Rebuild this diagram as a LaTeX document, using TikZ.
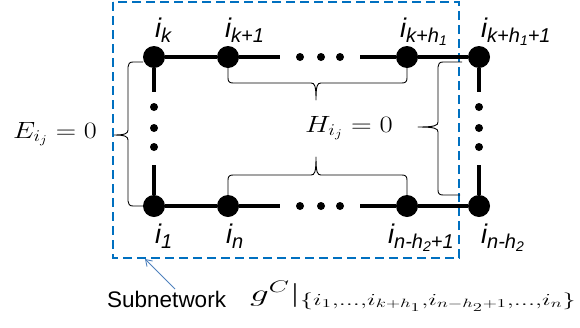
\RequirePackage{fix-cm}
\documentclass[tikz,border=0pt]{standalone}
\usepackage{fontspec}
\usepackage{amsmath}
\usepackage{graphicx}
\newfontfamily\labfont{Liberation Sans}
\usetikzlibrary{arrows.meta}
\definecolor{dashblue}{HTML}{0070C0}
\definecolor{arrblue}{HTML}{4F81BD}
\newcommand{\mainsz}{\fontsize{27}{30}\selectfont}
\newcommand{\subsz}{\fontsize{20}{22}\selectfont}
\newcommand{\subsubsz}{\fontsize{14}{16}\selectfont}
\newcommand{\nlab}[1]{{\labfont\itshape\mainsz i\raisebox{-5pt}{\subsz #1}}}
\newcommand{\hsub}[1]{h\raisebox{-3pt}{\subsubsz #1}}
\begin{document}
\begin{tikzpicture}[x=1pt,y=-1pt,
  dotnode/.style={circle,fill=black,inner sep=0pt,minimum size=22pt},
  smalldot/.style={circle,fill=black,inner sep=0pt,minimum size=8pt},
  edgeline/.style={line width=4pt},
  bracepath/.style={line width=0.9pt,line join=round},
  lbl/.style={anchor=base west,inner sep=0pt},
  mathlbl/.style={anchor=base west,inner sep=0pt,font=\fontsize{23.5}{28}\selectfont}]
\useasboundingbox (0,0) rectangle (580,327);

% subnetwork box
\draw[dashblue,line width=2.5pt,dash pattern=on 9pt off 5pt] (113,2) rectangle (459,258);

% coordinates for line ends
\coordinate (ta) at (280,57);
\coordinate (tb) at (360,57);
\coordinate (ba) at (280,206);
\coordinate (bb) at (360,206);
\coordinate (la) at (154,92);
\coordinate (lb) at (154,165);
\coordinate (ra) at (479,92);
\coordinate (rb) at (479,165);

% nodes
\node[dotnode] (ik) at (154,57) {};
\node[dotnode] (ik1) at (228,57) {};
\node[dotnode] (ikh) at (407,57) {};
\node[dotnode] (ikh1) at (479,57) {};
\node[dotnode] (i1) at (154,206) {};
\node[dotnode] (in) at (228,206) {};
\node[dotnode] (inh1) at (407,206) {};
\node[dotnode] (inh) at (479,206) {};

% edges
\draw[edgeline] (ik) -- (ik1) -- (ta);
\draw[edgeline] (tb) -- (ikh) -- (ikh1);
\draw[edgeline] (i1) -- (in) -- (ba);
\draw[edgeline] (bb) -- (inh1) -- (inh);
\draw[edgeline] (ik) -- (la);
\draw[edgeline] (lb) -- (i1);
\draw[edgeline] (ikh1) -- (ra);
\draw[edgeline] (rb) -- (inh);

% ellipsis dots
\foreach \x/\n in {300/a,321/b,340/c}{
  \node[smalldot] (td\n) at (\x,57) {};
  \node[smalldot] (bd\n) at (\x,206) {};
}
\foreach \y/\n in {107/a,128/b,147/c}{
  \node[smalldot] (ld\n) at (154,\y) {};
  \node[smalldot] (rd\n) at (479,\y) {};
}

% node labels
\node[lbl] (lik) at (155,37) {\nlab{k}};
\node[lbl] (lik1) at (225,37) {\nlab{k+1}};
\node[lbl] (likh) at (400,37) {\nlab{k+\hsub{1}}};
\node[lbl] (likh1) at (481,37) {\nlab{k+\hsub{1}+1}};
\node[lbl] (li1) at (155,243) {\nlab{1}};
\node[lbl] (lin) at (226,243) {\nlab{n}};
\node[lbl] (linh1) at (388,243) {\nlab{n-\hsub{2}+1}};
\node[lbl] (linh) at (481,243) {\nlab{n-\hsub{2}}};

% left brace (E)
\draw[bracepath] (143,62) -- (133,62) .. controls (129.5,62) and (128,64) .. (128,67)
  -- (128,130) .. controls (128,133.5) and (125,135) .. (114,135)
  .. controls (125,135) and (128,136.5) .. (128,140)
  -- (128,201) .. controls (128,204) and (129.5,206) .. (133,206) -- (143,206);
% top H brace
\draw[bracepath] (228,68) -- (228,78) .. controls (228,81.5) and (229.5,83) .. (233,83)
  -- (311,83) .. controls (314.5,83) and (316,85) .. (316,100)
  .. controls (316,85) and (317.5,83) .. (321,83)
  -- (402,83) .. controls (405.5,83) and (407,81.5) .. (407,78) -- (407,68);
% bottom H brace
\draw[bracepath] (228,195) -- (228,180) .. controls (228,176.5) and (229.5,175) .. (233,175)
  -- (311,175) .. controls (314.5,175) and (316,173) .. (316,157)
  .. controls (316,173) and (317.5,175) .. (321,175)
  -- (402,175) .. controls (405.5,175) and (407,176.5) .. (407,180) -- (407,195);
% right brace
\draw[bracepath] (462,62) -- (443,62) .. controls (439.5,62) and (438,64) .. (438,67)
  -- (438,122) .. controls (438,125.5) and (435,127) .. (418,127)
  .. controls (435,127) and (438,128.5) .. (438,132)
  -- (438,190) .. controls (438,193.5) and (439.5,195) .. (443,195) -- (460,195);

% math labels
\node[mathlbl] (elab) at (13,138) {\scalebox{1.2}[1]{$E_{i_j}=0$}};
\node[mathlbl] (hlab) at (305,132) {\scalebox{1.22}[1]{$H_{i_j}=0$}};

% subnetwork label
\node[lbl,font=\labfont\fontsize{22.5}{26}\selectfont] (sub) at (107,307) {Subnetwork};
\node[mathlbl,font=\fontsize{24}{28}\selectfont] (gform) at (250,301) {\scalebox{1.55}[1]{$g^C|_{\{i_1,\ldots,i_{k+h_1},i_{n-h_2+1},\ldots,i_n\}}$}};

% arrow
\coordinate (boxpt) at (145,259);
\draw[arrblue,line width=0.9pt,-{Straight Barb[length=6pt,width=8pt]}] (175,289) -- (boxpt);
\end{tikzpicture}
\end{document}
